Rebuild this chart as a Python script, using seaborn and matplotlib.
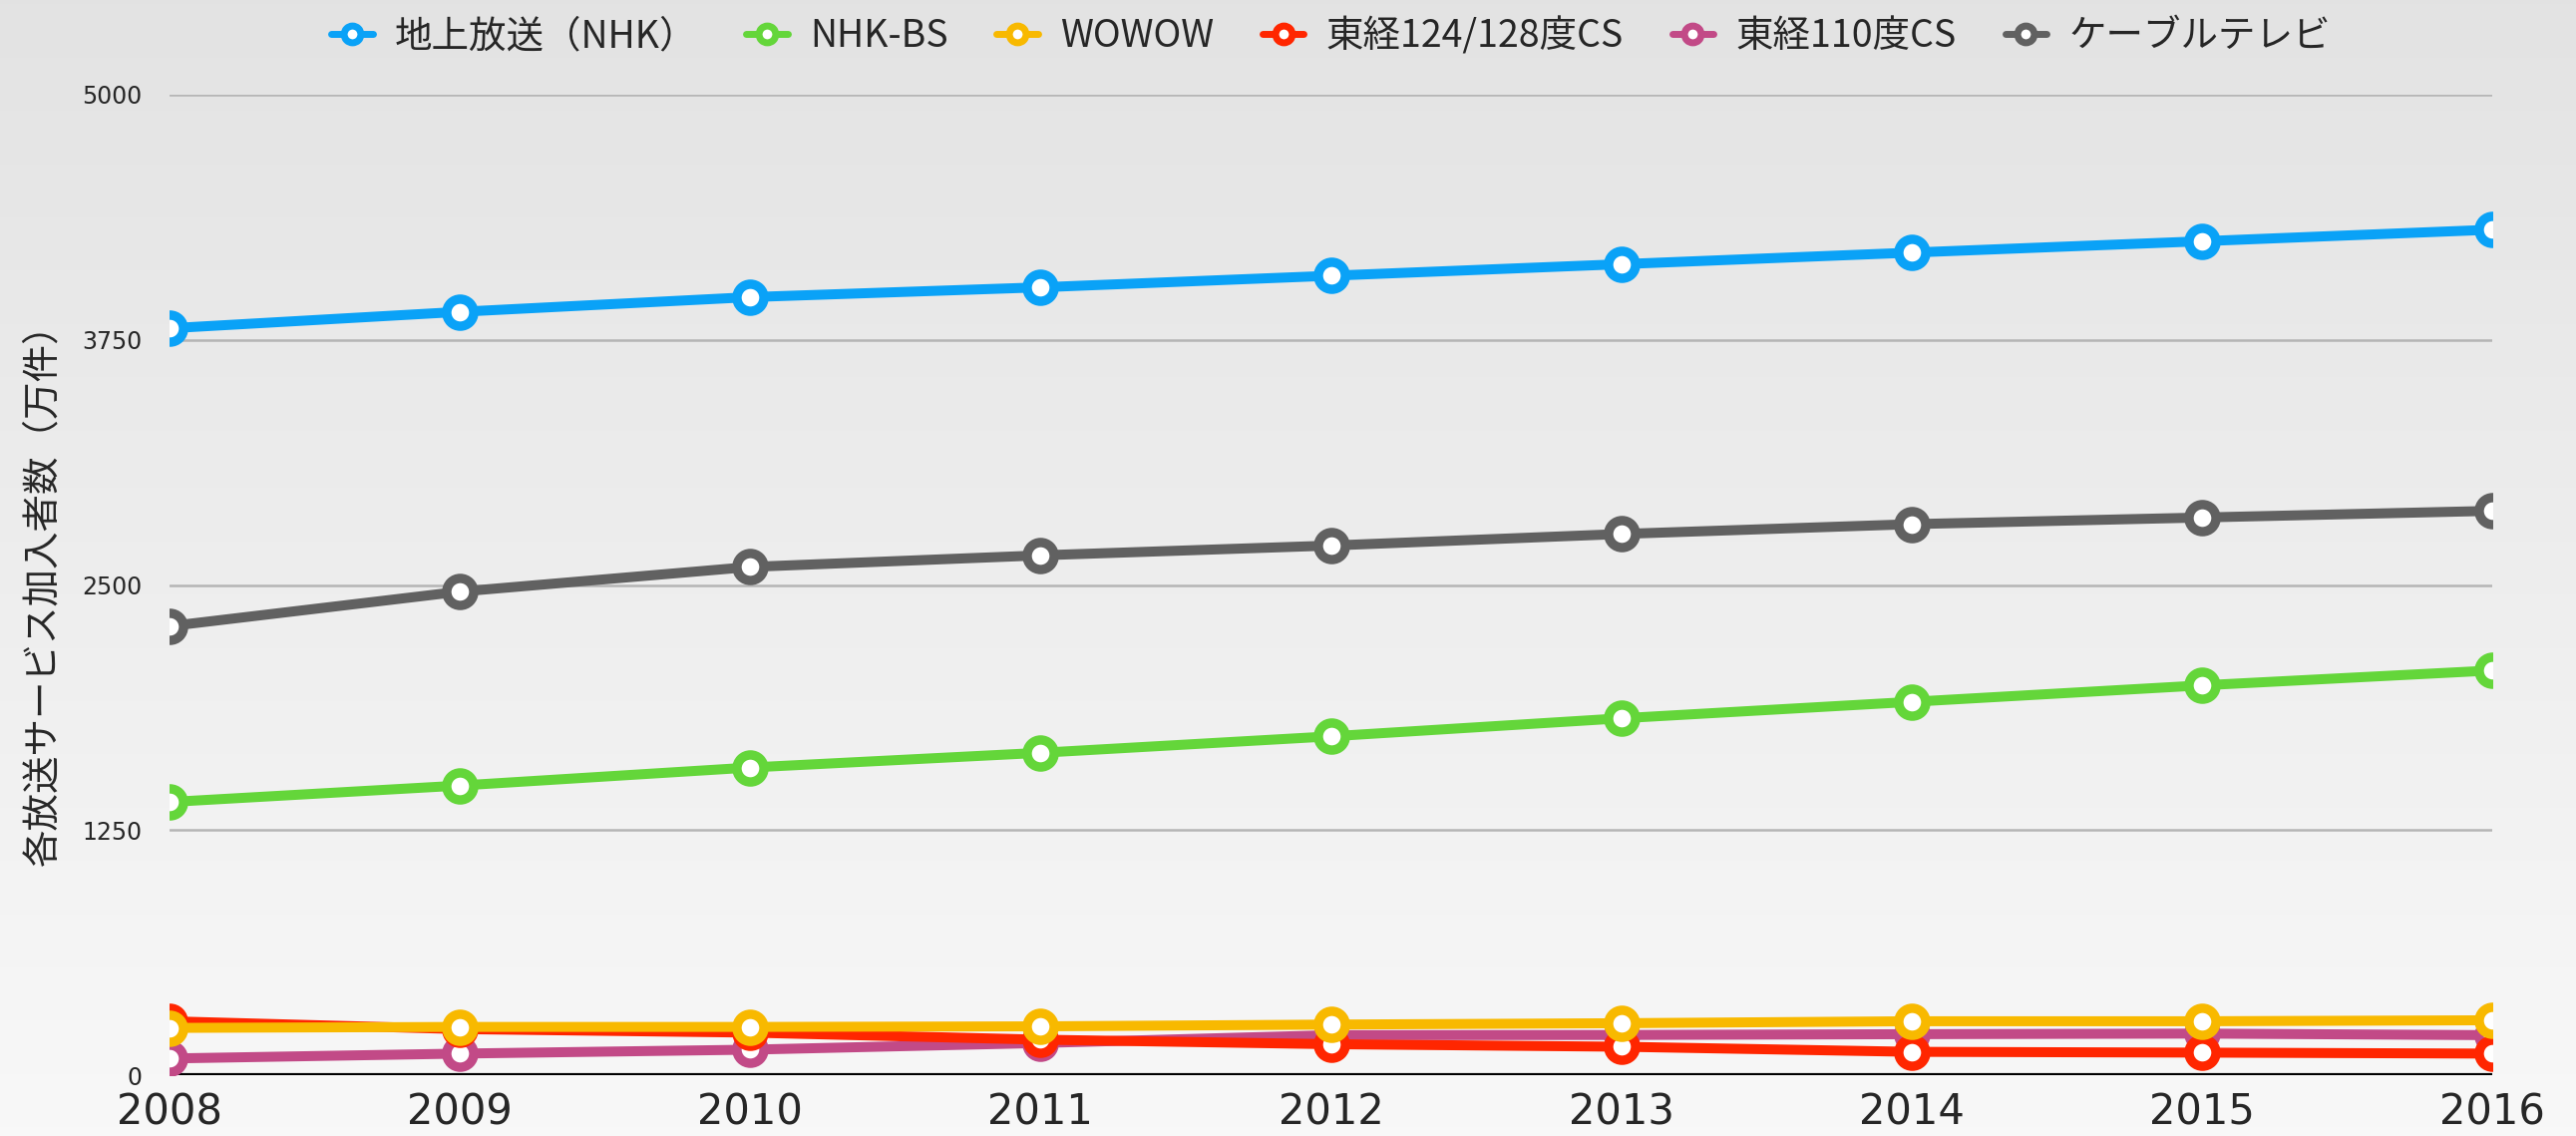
import numpy as np
import pandas as pd
import matplotlib
matplotlib.use("Agg")
import matplotlib.pyplot as plt
import seaborn as sns

years = [2008, 2009, 2010, 2011, 2012, 2013, 2014, 2015, 2016]
series_names = ["地上放送（NHK）", "NHK-BS", "WOWOW", "東経124/128度CS", "東経110度CS", "ケーブルテレビ"]
terrestrial = [3809, 3893, 3968, 4018, 4077, 4136, 4195, 4253, 4312]
nhk_bs = [1393, 1477, 1569, 1644, 1728, 1820, 1904, 1988, 2064]
wowow = [241, 246, 246, 249, 258, 265, 275, 275, 280]
cs124 = [275, 235, 217, 181, 158, 145, 119, 115, 110]
cs110 = [85, 110, 130, 164, 204, 205, 209, 212, 204]
cable = [2290, 2466, 2592, 2651, 2701, 2760, 2810, 2844, 2878]
y_ticks = [0, 1250, 2500, 3750, 5000]
y_label = "各放送サービス加入者数（万件）"

colors = ["#0AA2F7", "#64D63A", "#F8B900", "#FF2600", "#C24A87", "#616161"]
values = [terrestrial, nhk_bs, wowow, cs124, cs110, cable]
zorders = [6, 5, 4, 3, 2, 7]

df = pd.DataFrame({
    "year": np.tile(years, len(series_names)),
    "value": np.concatenate(values),
    "series": np.repeat(series_names, len(years)),
})

sns.set_theme(style="white")
plt.rcParams["font.family"] = ["Noto Sans CJK JP", "DejaVu Sans"]

W, H = 2583, 1139
fig = plt.figure(figsize=(W / 100, H / 100), dpi=100)

# background gradient
bg = fig.add_axes([0, 0, 1, 1], zorder=-10)
grad = np.linspace(0, 1, 256).reshape(-1, 1)
top = np.array([0.890, 0.890, 0.890])
bot = np.array([0.973, 0.973, 0.973])
img = top + (bot - top) * grad[:, :, None] * np.ones((1, 1, 3))
bg.imshow(img, aspect="auto", extent=[0, 1, 0, 1], origin="upper")
bg.axis("off")

ax = fig.add_axes([170 / W, 61 / H, (2499 - 170) / W, (1078 - 95) / H])
ax.set_facecolor("none")

for name, col, z in zip(series_names, colors, zorders):
    sub = df[df["series"] == name]
    sns.lineplot(data=sub, x="year", y="value", ax=ax, color=col, linewidth=7.2,
                 marker="o", markersize=19.5, markerfacecolor="white",
                 markeredgecolor=col, markeredgewidth=6.8, label=name,
                 zorder=z, solid_capstyle="round")

ax.set_xlim(2008, 2016)
ax.set_ylim(0, 5000)
ax.set_xticks(years)
ax.set_xticklabels([str(y) for y in years], fontsize=30, family=["Liberation Sans Narrow", "DejaVu Sans"])
ax.set_yticks(y_ticks)
ax.set_yticklabels([str(t) for t in y_ticks], fontsize=17, family=["DejaVu Sans"])
ax.tick_params(axis="x", length=0, pad=12)
ax.tick_params(axis="y", length=0, pad=20)
for t in y_ticks[1:]:
    ax.axhline(t, color="#b5b5b5", linewidth=1.8, zorder=0)
ax.axhline(0, color="black", linewidth=3, zorder=1)
for s in ax.spines.values():
    s.set_visible(False)
ax.set_xlabel("")
ax.set_ylabel(y_label, fontsize=27, labelpad=14)

h, l = ax.get_legend_handles_labels()
leg = ax.legend(h, l, loc="lower center", bbox_to_anchor=(0.5, 1.005), ncol=6,
                frameon=False, fontsize=27, handlelength=1.1, columnspacing=1.3,
                handletextpad=0.6, markerscale=0.62)
for lh in leg.get_lines():
    lh.set_linewidth(5)
    lh.set_markeredgewidth(5)

fig.savefig("out.png", dpi=100)
